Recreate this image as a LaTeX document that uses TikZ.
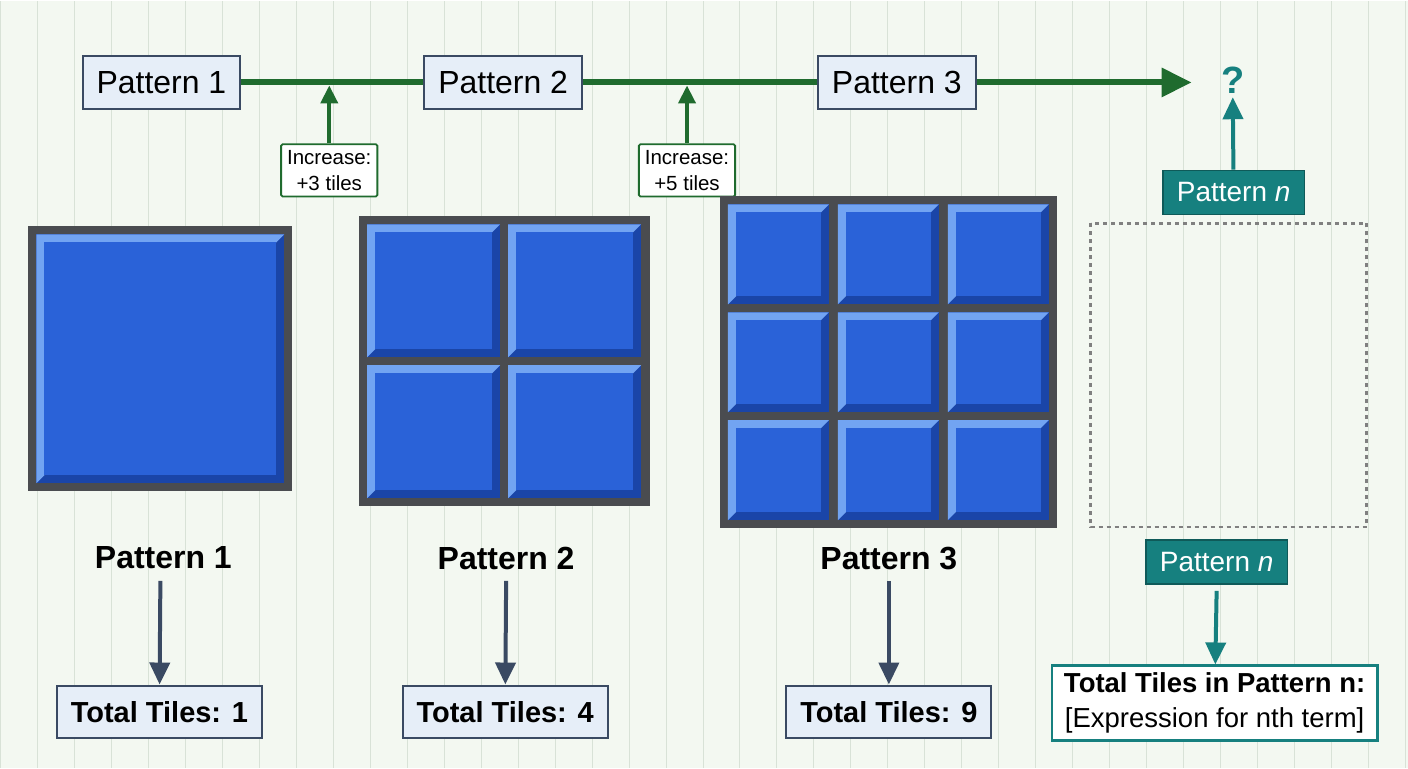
\documentclass[tikz,border=0pt]{standalone}
\usepackage{fontspec}
\setmainfont{Liberation Sans}
\usetikzlibrary{arrows.meta,calc}
\definecolor{bg}{HTML}{F3F8F1}
\definecolor{gridc}{HTML}{D8E2D7}
\definecolor{gr}{HTML}{1F6B2E}
\definecolor{teal}{HTML}{16807F}
\definecolor{navy}{HTML}{3A4A63}
\definecolor{boxf}{HTML}{E6EEF8}
\definecolor{tdark}{HTML}{1A45A8}
\definecolor{tlight}{HTML}{72A4F2}
\definecolor{tface}{HTML}{2A62D8}
\definecolor{frame}{HTML}{4A4C50}
\newcommand{\mytile}[4]{% x y w h
  \fill[tdark] (#1,#2) rectangle ++(#3,#4);
  \fill[tlight] (#1,#2) -- ++(#3,0) -- ++(-8,8) -- ($(#1,#2)+(8,#4-8)$) -- ++(-8,8) -- cycle;
  \fill[tface] ($(#1,#2)+(8,8)$) rectangle ($(#1,#2)+(#3-8,#4-8)$);
}
\begin{document}
\begin{tikzpicture}[x=1pt,y=-1pt,
  top/.style={draw=navy,line width=2pt,fill=boxf,minimum height=53pt,inner xsep=14pt,font=\fontsize{32}{34}\selectfont},
  inc/.style={draw=gr,line width=1.8pt,fill=white,align=center,inner sep=6pt,rounded corners=1.5pt,font=\fontsize{20.5}{26}\selectfont},
  tealb/.style={draw=teal!70!black,line width=1.5pt,fill=teal,text=white,inner xsep=14pt,minimum height=44pt,font=\fontsize{28}{30}\selectfont},
  lab/.style={font=\bfseries\fontsize{32}{34}\selectfont},
  tot/.style={draw=navy,line width=2pt,fill=boxf,minimum height=53pt,inner xsep=14pt,font=\bfseries\fontsize{29}{30}\selectfont},
  garr/.style={gr,line width=4pt,-{Triangle[length=18pt,width=17pt]}},
  narr/.style={navy,line width=4pt,-{Triangle[length=22pt,width=20pt]}},
  tarr/.style={teal,line width=4pt,-{Triangle[length=22pt,width=20pt]}}]
\fill[bg] (0,0) rectangle (1408,768);
\draw[gridc,line width=1pt] (0,0) grid[step=37] (1408,768);
\useasboundingbox (0,0) rectangle (1408,768);
% top row
\node[top] (t1) at (161,82) {Pattern 1};
\node[top] (t2) at (503,82) {Pattern 2};
\node[top] (t3) at (897,82) {Pattern 3};
\node[text=teal,font=\bfseries\fontsize{38}{40}\selectfont] (q) at (1233,80) {?};
\draw[gr,line width=6pt] (t1) -- (t2);
\draw[gr,line width=6pt] (t2) -- (t3);
\draw[gr,line width=6pt,-{Triangle[length=30pt,width=28pt]}] (t3) -- (1192,82) coordinate (qe);
\node[inc] (i1) at (329,170) {Increase:\\+3 tiles};
\node[inc] (i2) at (687,170) {Increase:\\+5 tiles};
\coordinate (c1) at (329,85);
\coordinate (c2) at (687,85);
\draw[garr] (i1) -- (c1);
\draw[garr] (i2) -- (c2);
\node[tealb] (pn1) at (1234,192) {Pattern \textit{n}};
\draw[tarr] (pn1) -- (q);
% tiles
\fill[frame] (28,226) rectangle (292,491);
\mytile{36}{234}{248}{249}
\fill[frame] (359,216) rectangle (650,506);
\foreach \i in {0,1}{\foreach \j in {0,1}{
  \mytile{367+\i*141}{224+\j*141}{133}{133}}}
\fill[frame] (720,196) rectangle (1057,528);
\foreach \i in {0,1,2}{\foreach \j in {0,1,2}{
  \mytile{728+\i*110}{204+\j*108}{101}{100}}}
\draw[gray,line width=2.5pt,dash pattern=on 4pt off 4pt] (1091,223) rectangle (1367,527);
% labels
\node[lab] (l1) at (163,558) {Pattern 1};
\node[lab] (l2) at (506,558) {Pattern 2};
\node[lab] (l3) at (889,558) {Pattern 3};
\node[tealb] (pn2) at (1217,562) {Pattern \textit{n}};
\node[tot] (b1) at (159,712) {Total Tiles: 1};
\node[tot] (b2) at (505,712) {Total Tiles: 4};
\node[tot] (b3) at (889,712) {Total Tiles: 9};
\node[draw=teal,line width=2.5pt,fill=white,align=center,inner xsep=12pt,inner ysep=7pt,font=\fontsize{27.5}{35}\selectfont] (bn) at (1215,703) {\textbf{Total Tiles in Pattern n:}\\{}[Expression for nth term]};
\draw[narr] ($(l1.south)+(-3,8)$) -- (b1);
\draw[narr] ($(l2.south)+(0,8)$) -- (b2);
\draw[narr] ($(l3.south)+(0,8)$) -- (b3);
\draw[tarr] ($(pn2.south)+(0,6)$) -- (bn);
\end{tikzpicture}
\end{document}
